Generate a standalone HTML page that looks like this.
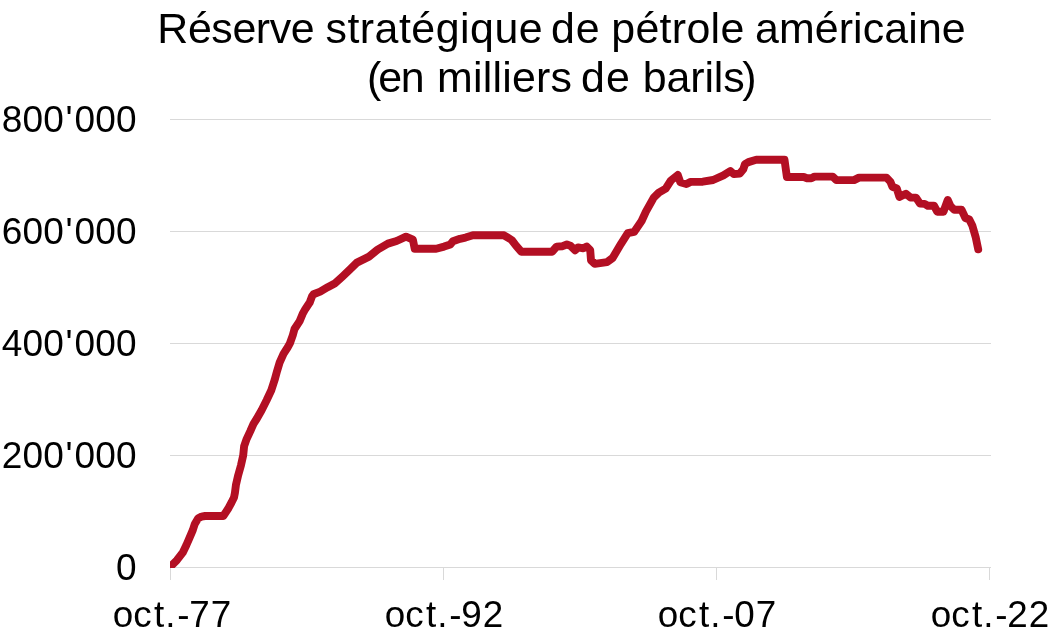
<!DOCTYPE html>
<html lang="fr"><head><meta charset="utf-8"><title>Réserve stratégique de pétrole américaine</title>
<style>
html,body{margin:0;padding:0;background:#fff;}
svg{display:block;font-family:"Liberation Sans",Arial,sans-serif;fill:#000;}
</style></head><body>
<svg width="1052" height="638" viewBox="0 0 1052 638">
<rect width="1052" height="638" fill="#fff"/>
<g stroke="#d9d9d9" stroke-width="1" fill="none" shape-rendering="crispEdges">
<line x1="170" y1="119.5" x2="990.5" y2="119.5"/>
<line x1="170" y1="231.5" x2="990.5" y2="231.5"/>
<line x1="170" y1="343.5" x2="990.5" y2="343.5"/>
<line x1="170" y1="455.5" x2="990.5" y2="455.5"/>
<line x1="170" y1="567.5" x2="990.5" y2="567.5"/>
<line x1="170.5" y1="567" x2="170.5" y2="580"/>
<line x1="443.5" y1="567" x2="443.5" y2="580"/>
<line x1="716.5" y1="567" x2="716.5" y2="580"/>
<line x1="989.5" y1="567" x2="989.5" y2="580"/>
</g>
<clipPath id="c"><rect x="170" y="100" width="830" height="468"/></clipPath>
<path clip-path="url(#c)" d="M170.0,567.1 L176.9,560.2 L182.7,552.7 L186.3,545.2 L189.6,537.6 L192.8,530.1 L194.8,523.9 L198.2,518.2 L201.5,516.6 L205.1,516.0 L223.3,516.0 L228.1,508.8 L231.5,502.5 L234.0,497.5 L234.9,493.0 L235.9,485.2 L238.2,475.2 L241.0,465.2 L243.2,455.4 L244.1,446.3 L246.7,438.8 L250.2,431.3 L253.5,423.8 L256.9,418.5 L261.6,410.2 L266.6,400.2 L271.3,390.2 L274.6,380.1 L277.0,371.3 L279.6,362.6 L283.5,353.8 L287.6,347.5 L289.9,343.4 L292.8,335.2 L294.5,329.0 L299.5,321.4 L302.6,313.9 L305.4,308.9 L309.7,302.6 L312.0,296.3 L313.5,294.2 L320.2,291.6 L327.7,287.2 L335.2,283.2 L342.7,276.3 L350.0,269.4 L356.9,262.6 L369.0,256.6 L377.6,249.7 L387.9,243.6 L396.6,241.0 L406.0,236.7 L412.9,239.7 L414.7,248.8 L436.2,248.8 L444.1,246.6 L450.3,244.5 L452.9,241.3 L460.0,238.8 L465.5,237.6 L472.9,235.3 L504.0,235.3 L511.7,240.0 L516.0,245.7 L521.2,251.7 L552.2,251.7 L556.6,246.6 L562.6,246.2 L566.9,244.5 L570.3,245.7 L575.2,250.3 L578.1,247.4 L583.3,248.3 L586.7,246.6 L590.2,250.0 L591.0,260.3 L594.8,263.9 L607.0,262.2 L612.6,258.0 L621.0,243.8 L627.8,233.2 L634.1,231.9 L641.6,221.0 L645.9,211.6 L653.6,197.8 L658.8,192.6 L665.7,188.6 L670.9,180.5 L677.8,175.0 L680.3,182.2 L686.4,184.0 L690.7,181.9 L702.8,181.7 L713.1,180.0 L723.4,175.3 L730.3,171.0 L733.8,174.1 L739.8,173.6 L743.3,169.3 L745.0,164.1 L748.4,162.1 L756.2,159.8 L784.5,159.8 L786.9,177.0 L803.8,177.0 L807.0,178.2 L811.3,178.2 L814.5,176.6 L832.7,176.6 L836.4,180.1 L854.0,180.1 L859.0,177.6 L886.5,177.6 L890.3,181.6 L892.4,186.8 L896.8,188.5 L899.4,196.9 L905.9,193.7 L910.5,197.6 L916.0,197.6 L920.0,203.6 L924.6,203.9 L927.8,205.7 L934.0,205.7 L937.2,211.7 L943.5,211.7 L947.7,200.0 L950.5,206.2 L954.4,209.8 L961.5,209.8 L965.4,218.0 L969.3,219.5 L972.4,225.8 L975.6,236.8 L978.2,249.3" fill="none" stroke="#b30f23" stroke-width="7.9" stroke-linejoin="round" stroke-linecap="round"/>
<g font-size="42.9px">
<text y="42.8"><tspan x="157.35" letter-spacing="-0.409">Réserve </tspan><tspan x="325.53" letter-spacing="0.485">stratégique </tspan><tspan x="550.96" letter-spacing="0.961">de </tspan><tspan x="611.22" letter-spacing="0.325">pétrole </tspan><tspan x="754.96" letter-spacing="0.106">américaine</tspan></text>
<text y="91.6"><tspan x="366.99" letter-spacing="0">(</tspan><tspan x="378.16" letter-spacing="-1.168">en </tspan><tspan x="437.12" letter-spacing="0.195">milliers </tspan><tspan x="580.96" letter-spacing="1.161">de </tspan><tspan x="642.82" letter-spacing="-0.119">barils</tspan><tspan x="742.13" letter-spacing="0">)</tspan></text>
</g>
<g font-size="37px" text-anchor="end" letter-spacing="0.2">
<text class="yl" x="136.8" y="131.9">800<tspan dx="1.6">'</tspan><tspan dx="1.6">000</tspan></text>
<text class="yl" x="136.8" y="243.9">600<tspan dx="1.6">'</tspan><tspan dx="1.6">000</tspan></text>
<text class="yl" x="136.8" y="355.9">400<tspan dx="1.6">'</tspan><tspan dx="1.6">000</tspan></text>
<text class="yl" x="136.8" y="467.9">200<tspan dx="1.6">'</tspan><tspan dx="1.6">000</tspan></text>
<text class="yl" x="136.8" y="579.9">0</text>
</g>
<g font-size="36.8px">
<text class="xl" x="112.64 133.26 153.92 165.36 177.16 189.27 210.87" y="626.8">oct.-77</text>
<text class="xl" x="384.64 405.26 425.92 437.36 449.16 461.27 482.87" y="626.8">oct.-92</text>
<text class="xl" x="657.64 678.26 698.92 710.36 722.16 734.27 755.87" y="626.8">oct.-07</text>
<text class="xl" x="930.64 951.26 971.92 983.36 995.16 1007.27 1028.87" y="626.8">oct.-22</text>
</g>
</svg>
</body></html>
